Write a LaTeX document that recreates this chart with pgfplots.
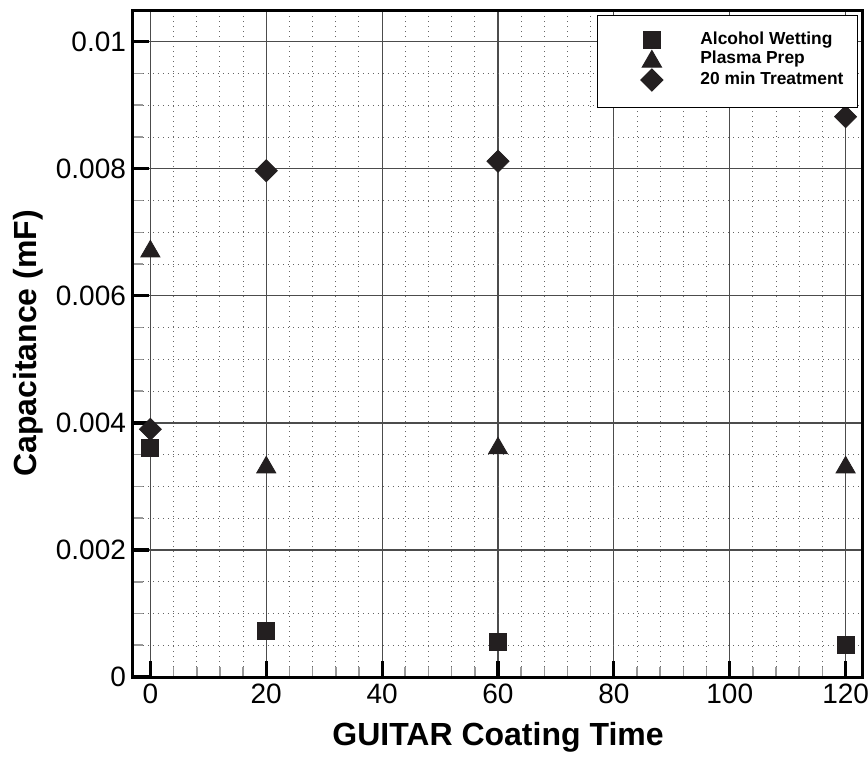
\documentclass[border=0pt]{standalone}
\usepackage{pgfplots}
\pgfplotsset{compat=1.18}
\usepackage{fontspec}
\setmainfont{Liberation Sans}
\definecolor{mk}{HTML}{231F20}
\pgfplotsset{
  legimg/.style={legend image code/.code={%
    \path (-22pt,0pt) (22pt,0pt);
    \draw[##1] plot coordinates {(0pt,#1)};}},
}
\begin{document}
\begin{tikzpicture}
\begin{axis}[
  scale only axis,
  width=365pt, height=333.5pt,
  xmin=-3, xmax=123, ymin=0, ymax=0.0105,
  xtick={0,20,...,120}, ytick={0,0.002,...,0.01},
  minor x tick num=4, minor y tick num=3,
  scaled y ticks=false,
  yticklabel style={/pgf/number format/fixed, /pgf/number format/precision=3},
  /pgf/number format/assume math mode=true,
  tick label style={font=\fontsize{14}{16}\selectfont},
  tick align=inside, xtick pos=bottom, ytick pos=left,
  major tick length=8pt, minor tick length=5pt,
  every major tick/.append style={line width=1.6pt, black},
  every minor tick/.append style={line width=0.8pt, gray!80},
  axis line style={line width=1.5pt},
  grid=both,
  major grid style={line width=0.6pt, gray!60!black},
  minor grid style={line width=0.5pt, dotted, gray!80!black},
  xlabel={GUITAR Coating Time},
  ylabel={Capacitance (mF)},
  label style={font=\bfseries\fontsize{16}{18}\selectfont},
  xlabel style={at={(axis description cs:0.5,-0.1034)}, anchor=base},
  ylabel style={at={(axis description cs:-0.1438,0.5)}, anchor=center},
  legend style={at={(rel axis cs:1,1)}, anchor=north east, xshift=-2.5pt, yshift=-2.5pt,
    draw=black, line width=0.5pt, fill=white, inner xsep=5pt, inner ysep=8pt,
    font=\bfseries\fontsize{8.7}{10}\selectfont,
    nodes={inner ysep=0pt, text height=6pt, text depth=1.5pt}, row sep=1pt},
  legend cell align=left,
]
  \addplot[only marks, mark=square*, mark size=4.25pt, mk, legimg=0pt]
    coordinates {(0,0.0036)(20,0.00072)(60,0.00055)(120,0.0005)};
  \addlegendentry{Alcohol Wetting}
  \addplot[only marks, mark=triangle*, mark size=5.5pt, mk, legimg=-1.5pt]
    coordinates {(0,0.0067)(20,0.0033)(60,0.0036)(120,0.0033)};
  \addlegendentry{Plasma Prep}
  \addplot[only marks, mark=square*, mark size=3.9pt, mark options={rotate=45}, mk, legimg=0pt]
    coordinates {(0,0.0039)(20,0.00797)(60,0.00812)(120,0.00882)};
  \addlegendentry{20 min Treatment}
\end{axis}
\pgfresetboundingbox
\useasboundingbox ([xshift=-66.5pt,yshift=-40pt]current axis.south west) rectangle ([xshift=2.5pt,yshift=5pt]current axis.north east);
\end{tikzpicture}
\end{document}
